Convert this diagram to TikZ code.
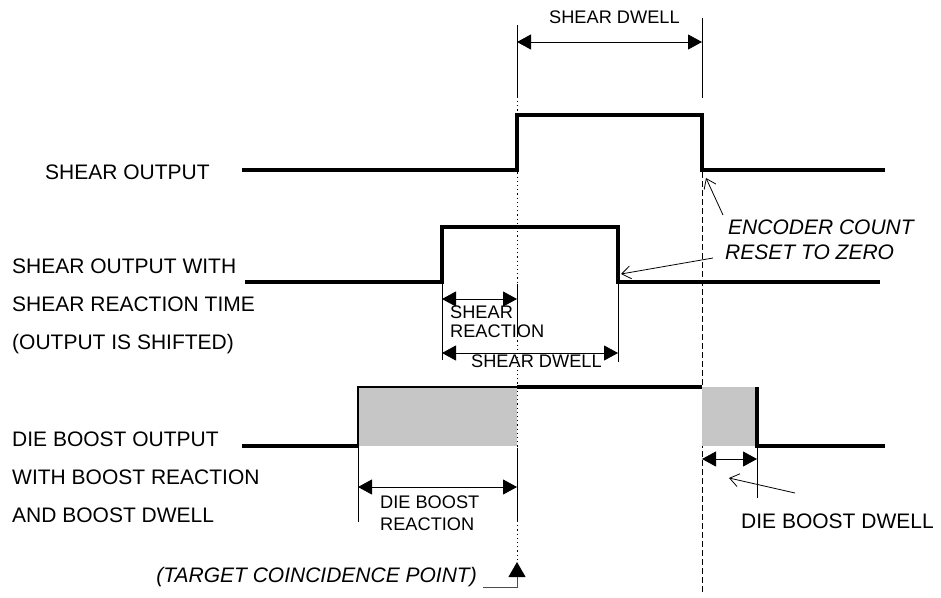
\documentclass[tikz,border=0pt]{standalone}
\usepackage{fontspec}
\setmainfont{Liberation Sans}
\usetikzlibrary{arrows.meta}

\begin{document}
\begin{tikzpicture}[x=1pt,y=-1pt,>={Triangle[length=14pt,width=15pt]},
  sig/.style={line width=3.2pt},
  extline/.style={line width=0.8pt},
  dimarr/.style={<->,line width=0.8pt},
  ptr/.style={-{Straight Barb[length=9pt,width=13pt]},line width=0.8pt},
  biglbl/.style={font=\fontsize{21}{24}\selectfont,inner sep=0pt,anchor=base west},
  smalllbl/.style={font=\fontsize{18.2}{21}\selectfont,inner sep=0pt,anchor=base west},
  note/.style={font=\fontsize{21}{24}\selectfont\itshape,inner sep=0pt,anchor=base west}]
  \useasboundingbox (0,0) rectangle (941,597);
  % reference lines
  \draw[extline] (517,25)--(517,98);
  \draw[extline,dash pattern=on 1.2pt off 3pt] (517,101)--(517,562);
  \draw[extline] (702,18)--(702,98);
  \draw[extline,dash pattern=on 6pt off 3pt] (702,172)--(702,592);
  \draw[dimarr] (517,42)--(702,42);
  \node[smalllbl] (dwtop) at (549,23) {SHEAR DWELL};
  % shear output
  \node[biglbl] (lshear) at (45,179.5) {SHEAR OUTPUT};
  \draw[sig] (242,170)--(517,170)--(517,115)--(702,115)--(702,170)--(885,170);
  % shifted shear output
  \node[biglbl] (lshift1) at (12,273.5) {SHEAR OUTPUT WITH};
  \node[biglbl] (lshift2) at (12,311.5) {SHEAR REACTION TIME};
  \node[biglbl] (lshift3) at (12,349.5) {(OUTPUT IS SHIFTED)};
  \draw[sig] (245,282)--(442,282)--(442,227)--(618,227)--(618,282)--(880,282);
  \draw[extline] (442,284)--(442,360);
  \draw[extline] (517,284)--(517,336);
  \draw[extline] (618,284)--(618,362);
  \draw[dimarr] (442,299)--(517,299);
  \draw[dimarr] (442,353)--(618,353);
  \node[smalllbl] (sreac1) at (450,318) {SHEAR};
  \node[smalllbl] (sreac2) at (450,337) {REACTION};
  \node[smalllbl] (sdwell) at (471,367) {SHEAR DWELL};
  % die boost output
  \node[biglbl] (lboost1) at (12,446.5) {DIE BOOST OUTPUT};
  \node[biglbl] (lboost2) at (12,484.5) {WITH BOOST REACTION};
  \node[biglbl] (lboost3) at (12,522.5) {AND BOOST DWELL};
  \fill[gray!45] (358,387) rectangle (517,446);
  \fill[gray!45] (702,387) rectangle (757,446);
  \draw[sig] (242,446)--(358,446);
  \draw[line width=1.6pt] (358,446)--(358,387)--(517,387);
  \draw[sig] (517,387)--(702,387);
  \draw[sig] (757,387)--(757,446)--(885,446);
  \draw[extline] (358,446)--(358,522);
  \draw[extline] (517,448)--(517,522);
  \draw[dimarr] (358,487)--(517,487);
  \node[smalllbl] (breac1) at (380,508) {DIE BOOST};
  \node[smalllbl] (breac2) at (380,530) {REACTION};
  \draw[extline] (757,448)--(757,498);
  \draw[dimarr] (702,459)--(757,459);
  \node[biglbl] (bdwell) at (741,528) {DIE BOOST DWELL};
  \coordinate (bdTail) at (795,493);
  \coordinate (bdTip) at (729,478);
  \draw[ptr] (bdTail)--(bdTip);
  % encoder reset
  \node[note] (enc1) at (728,234) {ENCODER COUNT};
  \node[note] (enc2) at (725,259.5) {RESET TO ZERO};
  \coordinate (encTail1) at (723,215);
  \coordinate (encTip1) at (706,178);
  \coordinate (encTail2) at (713,258);
  \coordinate (encTip2) at (621,274);
  \draw[ptr] (encTail1)--(encTip1);
  \draw[ptr] (encTail2)--(encTip2);
  % target point
  \node[note,anchor=base east] (tgt) at (477,582) {(TARGET COINCIDENCE POINT)};
  \coordinate (tgtStart) at (483,587);
  \coordinate (tgtCorner) at (517,587);
  \coordinate (tgtTip) at (517,562);
  \draw[line width=1pt,gray!60!black,-{Triangle[length=15pt,width=17pt,color=black]}]
    (tgtStart)--(tgtCorner)--(tgtTip);
\end{tikzpicture}
\end{document}
